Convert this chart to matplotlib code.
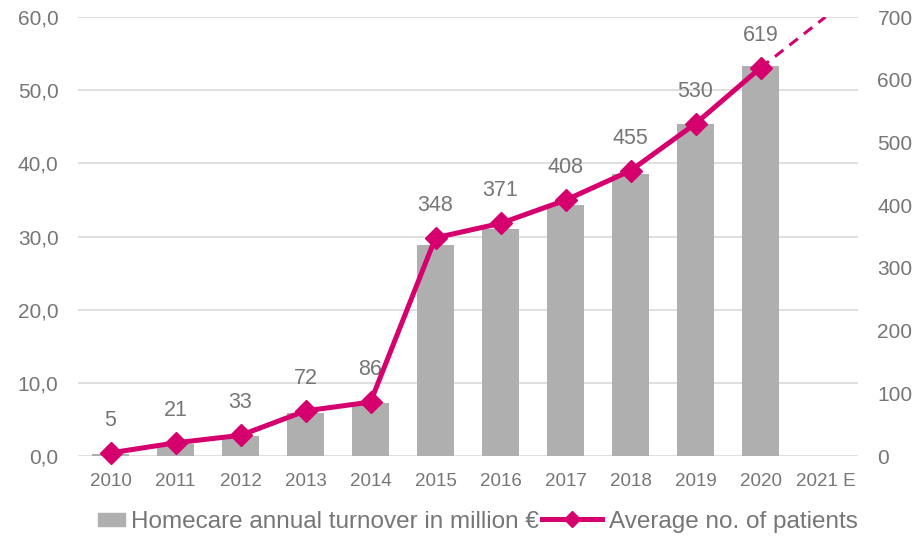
import numpy as np
import matplotlib.pyplot as plt
from matplotlib.patches import Rectangle
from matplotlib.legend_handler import HandlerPatch
from matplotlib.ticker import FuncFormatter

plt.rcParams['font.family'] = ['Liberation Sans', 'DejaVu Sans']

years = ['2010', '2011', '2012', '2013', '2014', '2015', '2016', '2017',
         '2018', '2019', '2020', '2021 E']
turnover = [0.3, 1.6, 2.7, 5.9, 7.2, 28.8, 31.0, 34.3, 38.5, 45.4, 53.3]
patients = [5, 21, 33, 72, 86, 348, 371, 408, 455, 530, 619]
patients_2021_est = 700

BAR = '#AFAFAF'
LINE = '#D5006D'
TXT = '#767676'
GRID = '#D9D9D9'

x = np.arange(len(years))

fig = plt.figure(figsize=(9.22, 5.37), dpi=100)
ax = fig.add_axes([0.0846, 0.1508, 0.846, 0.8175])
ax2 = ax.twinx()

ax.bar(x[:len(turnover)], turnover, width=0.57, color=BAR, zorder=2)
ax.set_ylim(0, 60)
ax.set_yticks(np.arange(0, 61, 10))
ax.yaxis.set_major_formatter(FuncFormatter(lambda v, p: f'{v:.1f}'.replace('.', ',')))
ax.grid(axis='y', color=GRID, linewidth=1.2, zorder=0)
ax.set_axisbelow(True)
ax.set_xlim(-0.5, len(years) - 0.5)
ax.set_xticks(x)
ax.set_xticklabels(years)

n = len(patients)
line, = ax2.plot(x[:n], patients, color=LINE, linewidth=3.6, marker='D',
                 markersize=11, label='Average no. of patients', zorder=5,
                 clip_on=False)
ax2.plot([x[n - 1], x[n]], [patients[-1], patients_2021_est], color=LINE,
         linewidth=2.2, linestyle=(0, (3.5, 2.5)), zorder=4)
ax2.set_ylim(0, 700)
ax2.set_yticks(np.arange(0, 701, 100))

for xi, v in zip(x[:n], patients):
    ax2.annotate(str(v), (xi, v), xytext=(0, 22), textcoords='offset pixels',
                 ha='center', va='bottom', fontsize=15.5, color=TXT)

for a in (ax, ax2):
    for s in a.spines.values():
        s.set_visible(False)
    a.tick_params(length=0, colors=TXT, labelsize=15)
ax.tick_params(axis='x', labelsize=13.5, pad=12)
ax.tick_params(axis='y', pad=14)
ax2.tick_params(axis='y', pad=14)
ax.set_zorder(ax2.get_zorder() - 1)
ax2.patch.set_visible(False)
ax.patch.set_visible(True)


def small_box(legend, orig_handle, xdescent, ydescent, width, height, fontsize):
    # short grey swatch sitting at the right end of the handle area
    w = width * 0.45
    h = height * 0.75
    return Rectangle((width - w - xdescent, (height - h) / 2 - ydescent), w, h)


bar_handle = Rectangle((0, 0), 1, 1, color=BAR,
                       label='Homecare annual turnover in million €')
fig.legend(handles=[bar_handle, line], loc='center', bbox_to_anchor=(0.5, 0.028),
           ncol=2, frameon=False, fontsize=17.5, labelcolor=TXT,
           handlelength=2.5, handletextpad=0.25, columnspacing=0.1,
           markerscale=0.75,
           handler_map={bar_handle: HandlerPatch(patch_func=small_box)})

fig.savefig('out.png', dpi=100)
